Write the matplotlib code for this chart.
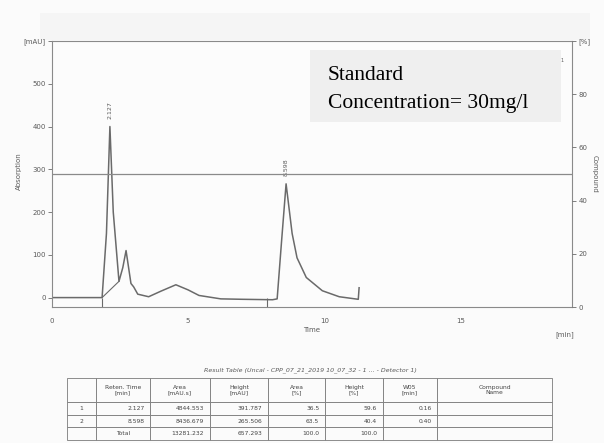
import numpy as np
import matplotlib
matplotlib.use('Agg')
import matplotlib.pyplot as plt
from matplotlib.patches import Rectangle

# chromatogram trace (time in min, absorbance in mAU)
time = [0.0, 1.84, 2.0, 2.127, 2.25, 2.46, 2.6, 2.72, 2.9, 3.0, 3.15, 3.55,
        4.0, 4.55, 5.0, 5.4, 6.2, 7.0, 8.1, 8.27, 8.43, 8.598, 8.82, 9.0,
        9.34, 9.93, 10.55, 11.25, 11.28]
absorb = [0, 0, 150, 400, 200, 38, 70, 110, 33, 25, 8, 2,
          15, 30, 18, 5, -3, -4, -5, -3, 130, 266, 150, 93,
          47, 16, 2, -4, 23]

# integration baseline under peak 1
base_t = [1.84, 2.46]
base_v = [0, 38]

# peak start markers
marker_t = [1.84, 7.9]

# peaks
peak_rt = [2.127, 8.598]
peak_top = [400, 266]
peak_lbl = ['2.127', '8.598']

# axis ticks
x_ticks = [0, 5, 10, 15]
y_ticks = [0, 100, 200, 300, 400, 500, 600]
y_tick_lbl = ['0', '100', '200', '300', '400', '500', '[mAU]']
pct_ticks = [0, 20, 40, 60, 80, 100]
pct_tick_lbl = ['0', '20', '40', '60', '80', '[%]']
pct_line = 50

# result table
col_names = ['', 'Reten. Time\n[min]', 'Area\n[mAU.s]', 'Height\n[mAU]',
             'Area\n[%]', 'Height\n[%]', 'W05\n[min]', 'Compound\nName']
rows = [['1', '2.127', '4844.553', '391.787', '36.5', '59.6', '0.16', ''],
        ['2', '8.598', '8436.679', '265.506', '63.5', '40.4', '0.40', ''],
        ['', 'Total', '13281.232', '657.293', '100.0', '100.0', '', '']]
col_w = [29, 54, 60, 58, 57, 58, 54, 115]

W, H = 604, 443
fig = plt.figure(figsize=(W / 100, H / 100), dpi=100)
fig.patch.set_facecolor('#fbfbfb')

grey = '#6a6a6a'
txt = '#5a5a5a'

# faint header strip of the scanned page
fig.add_artist(Rectangle((40 / W, 1 - 40 / H), 550 / W, 27 / H, transform=fig.transFigure,
                         facecolor='#f5f5f5', edgecolor='none', zorder=0))

ax = fig.add_axes([52 / W, 1 - 307 / H, 520 / W, 266 / H])
ax.set_facecolor('#fcfcfc')
ax.plot(time, absorb, color=grey, lw=1.1)
ax.plot(base_t, base_v, color=grey, lw=0.8)
ax.vlines(marker_t, -22, 0, color=grey, lw=0.8)
for rt, top, lbl in zip(peak_rt, peak_top, peak_lbl):
    ax.text(rt, top + 18, lbl, rotation=90, ha='center', va='bottom', fontsize=4.5, color=txt)

ax.set_xlim(0, 19.1)
ax.set_ylim(-22, 600)
ax.set_xticks(x_ticks)
ax.set_xticklabels([str(v) for v in x_ticks])
ax.set_yticks(y_ticks)
ax.set_yticklabels(y_tick_lbl)
ax.tick_params(axis='x', length=0, pad=8, labelsize=5, labelcolor=txt)
ax.tick_params(axis='y', length=3, width=0.6, color=grey, pad=1.5, labelsize=5, labelcolor=txt)
ax.set_ylabel('Absorption', fontsize=5, color=txt)
ax.yaxis.set_label_coords(-0.058, 0.51)
ax.set_xlabel('Time', fontsize=5, color=txt, labelpad=2)
for s in ax.spines.values():
    s.set_color('#8a8a8a')
    s.set_linewidth(0.8)

ax2 = ax.twinx()
ax2.set_ylim(0, 100)
ax2.set_yticks(pct_ticks)
ax2.set_yticklabels(pct_tick_lbl)
ax2.axhline(pct_line, color='#8a8a8a', lw=0.9)
ax2.tick_params(axis='y', length=3, width=0.6, color=grey, pad=1.5, labelsize=5, labelcolor=txt)
ax2.set_ylabel('Compound', rotation=270, fontsize=5, color=txt, labelpad=5)
for s in ax2.spines.values():
    s.set_visible(False)

fig.text(565 / W, 1 - 335 / H, '[min]', fontsize=5, color=txt, ha='center', va='center')

# annotation box
fig.add_artist(Rectangle((310 / W, 1 - 122 / H), 251 / W, 72 / H, transform=fig.transFigure,
                         facecolor='#efefef', edgecolor='none', zorder=3))
fig.text(328 / W, 1 - 80 / H, 'Standard', family='Liberation Serif', fontsize=15.5,
         va='baseline', zorder=4)
fig.text(328 / W, 1 - 108 / H, 'Concentration= 30mg/l', family='Liberation Serif',
         fontsize=15.5, va='baseline', zorder=4)
fig.text(562 / W, 1 - 60 / H, '1', fontsize=3.5, color=txt, ha='center', va='center', zorder=4)

# result table
fig.text(310 / W, 1 - 370 / H,
         'Result Table (Uncal - CPP_07_21_2019 10_07_32 - 1 ... - Detector 1)',
         fontsize=4.5, style='italic', color=txt, ha='center', va='center')
tax = fig.add_axes([67 / W, 1 - 440 / H, 485 / W, 62 / H])
tax.axis('off')
tab = tax.table(cellText=rows, colLabels=col_names, colWidths=[w / sum(col_w) for w in col_w],
                cellLoc='right', colLoc='center', bbox=[0, 0, 1, 1])
tab.auto_set_font_size(False)
tab.set_fontsize(4.3)
for (r, c), cell in tab.get_celld().items():
    cell.set_edgecolor('#7a7a7a')
    cell.set_linewidth(0.6)
    cell.set_facecolor('#fbfbfb')
    cell.get_text().set_color('#444444')
    if r == 0:
        cell.set_height(cell.get_height() * 1.9)
    if c == 0 or (r == 3 and c == 1):
        cell._loc = 'center'
        cell.get_text().set_horizontalalignment('center')

fig.savefig('out.png', dpi=100, facecolor=fig.get_facecolor())
